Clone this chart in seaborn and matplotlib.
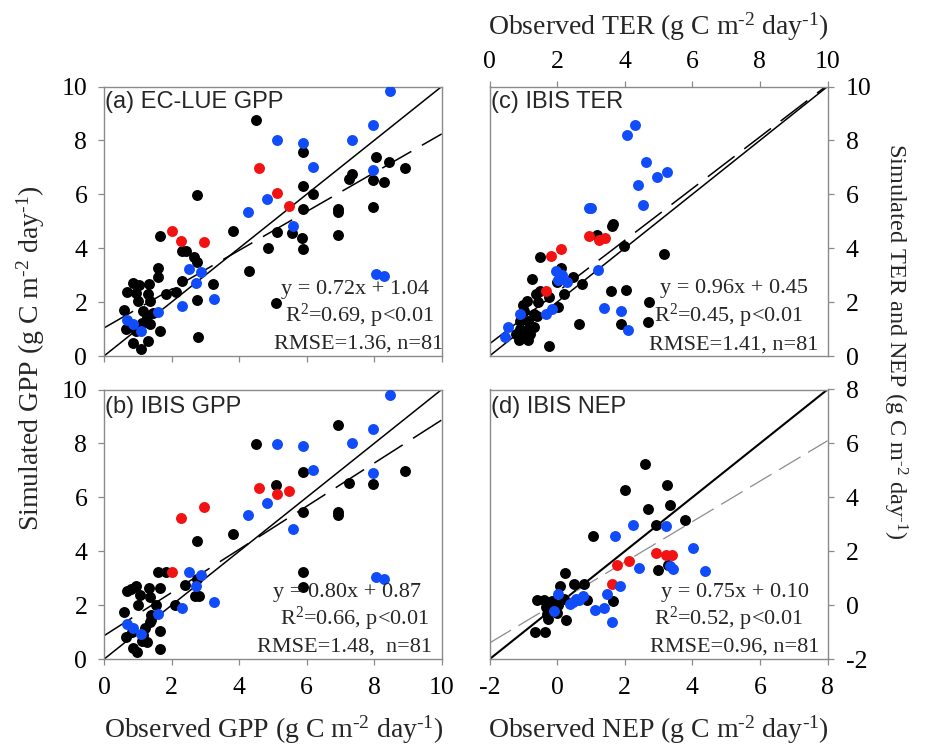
import numpy as np
import matplotlib
matplotlib.use("Agg")
import matplotlib.pyplot as plt
import seaborn as sns

sns.set_style("white")
plt.rcParams["font.family"] = ["Liberation Serif", "DejaVu Serif"]
plt.rcParams["mathtext.fontset"] = "custom"
plt.rcParams["mathtext.rm"] = "Liberation Serif"
plt.rcParams["mathtext.it"] = "Liberation Serif:italic"
plt.rcParams["mathtext.bf"] = "Liberation Serif:bold"
plt.rcParams["axes.unicode_minus"] = False

# ---------------- data ----------------
# (a) EC-LUE GPP
a_black_x = [4.49, 5.88, 8.04, 8.45, 8.91, 7.34, 7.25, 7.96, 8.28, 5.88, 6.20, 2.74, 5.88, 6.92, 6.92, 7.98,
             3.81, 5.11, 5.57, 5.87, 6.92, 1.67, 4.86, 5.88, 2.30, 2.44, 2.67, 2.74, 1.60, 1.60, 4.28, 2.32,
             3.23, 0.85, 1.03, 1.34, 0.68, 0.94, 1.85, 2.13, 1.31, 1.01, 1.36, 2.75, 5.08, 0.58, 1.16, 1.45,
             0.64, 0.94, 1.26, 1.36, 1.67, 0.86, 1.11, 1.29, 2.78, 1.13]
a_black_y = [8.77, 7.56, 7.38, 7.21, 6.98, 6.74, 6.58, 6.54, 6.47, 6.31, 6.01, 5.98, 5.47, 5.47, 5.35, 5.53,
             4.65, 4.59, 4.58, 4.38, 4.50, 4.45, 4.02, 3.97, 3.91, 3.91, 3.67, 3.48, 3.27, 2.92, 3.15, 2.79,
             2.66, 2.71, 2.65, 2.66, 2.38, 2.35, 2.31, 2.38, 2.30, 2.05, 2.05, 2.09, 1.98, 1.70, 1.68, 1.58,
             0.99, 0.93, 1.43, 1.18, 0.91, 0.50, 0.25, 0.56, 0.72, 1.24]
a_red_x = [2.01, 2.29, 2.97, 4.60, 5.11, 5.48]
a_red_y = [4.65, 4.28, 4.24, 6.99, 6.04, 5.58]
a_blue_x = [8.46, 7.98, 7.35, 5.13, 5.88, 6.20, 7.96, 4.84, 4.26, 5.59, 8.04, 8.30, 2.51, 2.87, 2.71, 3.26,
            2.32, 1.60, 0.68, 0.86, 1.11]
a_blue_y = [9.85, 8.56, 8.02, 8.00, 7.91, 7.03, 6.90, 5.81, 5.35, 4.81, 3.05, 2.97, 3.22, 3.12, 2.72, 2.10,
            1.87, 1.65, 1.34, 1.18, 0.93]

# (b) IBIS GPP
b_black_x = [6.92, 4.49, 5.88, 8.91, 7.25, 7.98, 5.09, 5.88, 6.92, 6.92, 3.81, 2.74, 1.60, 1.85, 5.88, 5.88,
             2.39, 2.74, 2.81, 2.69, 0.68, 0.94, 1.32, 1.67, 0.81, 1.06, 1.36, 1.01, 1.55, 2.09, 0.58, 1.36,
             1.40, 1.22, 1.65, 0.66, 0.84, 1.26, 0.86, 0.98, 1.67, 1.40, 1.16, 1.14]
b_black_y = [8.67, 7.99, 6.94, 6.96, 6.54, 6.51, 6.47, 5.46, 5.46, 5.33, 4.64, 4.38, 3.23, 3.23, 3.23, 2.67,
             2.74, 2.96, 2.33, 2.33, 2.52, 2.72, 2.64, 2.64, 2.62, 2.37, 2.31, 2.00, 2.02, 2.02, 1.75, 1.38,
             1.65, 1.14, 1.04, 0.83, 1.01, 0.64, 0.40, 0.27, 0.37, 1.44, 0.89, 0.68]
b_red_x = [2.01, 2.29, 2.97, 4.60, 5.11, 5.48]
b_red_y = [3.23, 5.23, 5.63, 6.36, 6.12, 6.25]
b_blue_x = [8.46, 7.98, 7.35, 5.13, 5.88, 6.20, 7.96, 4.84, 4.26, 5.59, 8.04, 8.30, 2.51, 2.87, 2.71, 3.26,
            2.32, 1.60, 0.68, 0.86, 1.11]
b_blue_y = [9.80, 8.54, 8.01, 7.99, 7.90, 7.01, 6.90, 5.79, 5.33, 4.83, 3.05, 2.99, 3.23, 3.14, 2.72, 2.12,
            1.90, 1.67, 1.32, 1.17, 0.95]

# (c) IBIS TER
c_black_x = [3.64, 3.62, 3.19, 3.99, 5.17, 1.50, 2.13, 1.25, 1.99, 2.46, 2.75, 3.60, 4.03, 4.72, 1.48, 1.38,
             2.19, 1.11, 0.99, 1.43, 2.02, 1.01, 1.40, 1.14, 0.89, 1.31, 0.89, 1.09, 0.77, 0.94, 1.19, 1.14,
             0.87, 1.75, 2.66, 3.88, 4.70, 1.33, 1.75]
c_black_y = [4.88, 4.81, 4.48, 4.08, 3.78, 3.67, 3.26, 2.84, 2.75, 2.92, 2.67, 2.41, 2.45, 1.99, 2.43, 2.30,
             2.30, 2.05, 1.90, 1.99, 1.80, 1.68, 1.49, 1.31, 1.31, 1.06, 1.00, 0.93, 0.81, 0.75, 0.81, 0.58,
             0.58, 0.36, 1.18, 1.18, 1.28, 1.55, 2.20]
c_red_x = [1.83, 2.13, 2.95, 3.23, 3.42, 1.66]
c_red_y = [3.72, 3.98, 4.47, 4.32, 4.38, 2.40]
c_blue_x = [4.29, 4.07, 4.64, 5.25, 4.97, 4.38, 4.54, 2.95, 3.00, 3.22, 1.97, 2.15, 2.29, 2.03, 3.38, 3.89,
            4.10, 1.84, 1.66, 0.91, 0.56, 0.47]
c_blue_y = [8.56, 8.21, 7.18, 6.83, 6.63, 6.33, 5.61, 5.50, 5.50, 3.20, 3.15, 2.99, 2.74, 2.82, 1.78, 1.68,
            0.96, 1.73, 1.55, 1.55, 1.06, 0.71]

# (d) IBIS NEP
d_black_x = [2.60, 2.01, 3.25, 2.70, 3.33, 3.79, 2.93, 1.07, 2.98, 3.28, 0.23, 0.09, 0.50, 0.81, -0.60, -0.40,
             -0.16, 0.19, 0.88, -0.34, 0.02, -0.01, -0.30, -0.27, 0.26, 1.64, -0.64, -0.36, -0.06]
d_black_y = [5.25, 4.27, 4.46, 3.56, 3.72, 3.17, 2.98, 2.56, 1.30, 1.48, 1.19, 0.70, 0.77, 0.77, 0.21, 0.21,
             0.14, 0.25, 0.21, -0.08, 0.01, -0.28, -0.32, -0.50, -0.54, 0.17, -1.00, -1.00, -0.20]
d_red_x = [1.78, 2.13, 2.94, 3.21, 3.40, 1.62]
d_red_y = [1.50, 1.64, 1.92, 1.85, 1.88, 0.78]
d_blue_x = [2.24, 3.21, 1.72, 4.01, 2.41, 3.42, 3.35, 4.38, 1.86, 1.49, 0.77, 0.66, 0.48, 0.38, 0.03, -0.08,
            1.11, 1.38, 1.61, 0.56]
d_blue_y = [2.96, 2.95, 2.56, 2.11, 1.39, 1.33, 1.46, 1.28, 0.70, 0.40, 0.35, 0.21, 0.11, 0.05, 0.41, -0.20,
            -0.17, -0.11, -0.63, 0.25]

# regression fits and statistics
fit_slope = [0.72, 0.80, 0.96, 0.75]
fit_icpt = [1.04, 0.87, 0.45, 0.10]
fit_r2 = ["0.69", "0.66", "0.45", "0.52"]
fit_rmse = ["1.36", "1.48", "1.41", "0.96"]
titles = ["(a) EC-LUE GPP", "(b) IBIS GPP", "(c) IBIS TER", "(d) IBIS NEP"]
gpp_ticks = [0, 2, 4, 6, 8, 10]
nep_ticks = [-2, 0, 2, 4, 6, 8]

BLACK = "#000000"
RED = "#f21212"
BLUE = "#104cfa"
SPINE = "#8a8a8a"

W, H = 925, 745
fig = plt.figure(figsize=(W / 100, H / 100), dpi=100)


def box(left, top, right, bottom):
    return [left / W, 1 - bottom / H, (right - left) / W, (bottom - top) / H]


ax_a = fig.add_axes(box(104, 86.5, 441.7, 356))
ax_b = fig.add_axes(box(104, 389.5, 441.7, 659.2))
ax_c = fig.add_axes(box(489.5, 86.5, 827.5, 356))
ax_d = fig.add_axes(box(489.5, 389.5, 827.5, 659.2))

groups = [
    [(a_black_x, a_black_y, BLACK), (a_red_x, a_red_y, RED), (a_blue_x, a_blue_y, BLUE)],
    [(b_black_x, b_black_y, BLACK), (b_red_x, b_red_y, RED), (b_blue_x, b_blue_y, BLUE)],
    [(c_black_x, c_black_y, BLACK), (c_red_x, c_red_y, RED), (c_blue_x, c_blue_y, BLUE)],
    [(d_black_x, d_black_y, BLACK), (d_red_x, d_red_y, RED), (d_blue_x, d_blue_y, BLUE)],
]
axes = [ax_a, ax_b, ax_c, ax_d]
ticks = [gpp_ticks, gpp_ticks, gpp_ticks, nep_ticks]

# stats text anchors (axes fraction): centre x, baseline y for each line
stat_x = [(0.743, 0.758, 0.754), (0.721, 0.743, 0.711), (0.722, 0.707, 0.722), (0.725, 0.707, 0.725)]
stat_y = [(0.230, 0.126, 0.026), (0.232, 0.127, 0.028), (0.234, 0.127, 0.025), (0.232, 0.127, 0.028)]
title_y = [0.919, 0.912, 0.919, 0.912]

for i, ax in enumerate(axes):
    tk = ticks[i]
    lo, hi = tk[0], tk[-1]
    ax.set_xlim(lo, hi)
    ax.set_ylim(lo, hi)
    for gx, gy, col in groups[i]:
        sns.scatterplot(x=gx, y=gy, color=col, s=62, linewidth=0, ax=ax,
                        legend=False, zorder=3)
    # 1:1 line
    ax.axline((lo, lo), slope=1, color="black", lw=1.5 if i == 3 else 1.1, zorder=2)
    # fitted regression line
    if i == 3:
        ax.axline((0, fit_icpt[i]), slope=fit_slope[i], color="#8c8c8c", lw=0.9,
                  dashes=(20, 7), zorder=2)
    else:
        ax.axline((0, fit_icpt[i]), slope=fit_slope[i], color="black", lw=1.1,
                  dashes=(22, 8), zorder=2)
    ax.set_xticks(tk)
    ax.set_yticks(tk)
    for sp in ax.spines.values():
        sp.set_visible(True)
        sp.set_color(SPINE)
        sp.set_linewidth(1.0)
    ax.tick_params(direction="out", length=4, width=0.9, color=SPINE,
                   labelsize=18.5, labelcolor="black")
    ax.set_xlabel("")
    ax.set_ylabel("")
    # panel title
    ax.text(0.004, title_y[i], titles[i], transform=ax.transAxes, ha="left",
            va="baseline", fontsize=17, family=["Liberation Sans", "DejaVu Sans"])
    lines = [
        f"y = {fit_slope[i]:.2f}x + {fit_icpt[i]:.2f}",
        f"R$^2$={fit_r2[i]}, p<0.01",
        f"RMSE={fit_rmse[i]},  n=81" if i == 1 else f"RMSE={fit_rmse[i]}, n=81",
    ]
    for j, s in enumerate(lines):
        ax.text(stat_x[i][j], stat_y[i][j], s, transform=ax.transAxes, ha="center",
                va="baseline", fontsize=16, zorder=5)

# tick placement per panel
ax_a.tick_params(axis="x", bottom=True, top=False, labelbottom=False, labeltop=False)
ax_a.tick_params(axis="y", left=True, right=False, labelleft=True, labelright=False, pad=8)
ax_b.tick_params(axis="x", bottom=True, top=False, labelbottom=True, pad=9)
ax_b.tick_params(axis="y", left=True, right=False, labelleft=True, pad=8)
ax_c.tick_params(axis="x", bottom=False, top=True, labelbottom=False, labeltop=True, pad=6)
ax_c.tick_params(axis="y", left=False, right=True, labelleft=False, labelright=True, pad=9)
ax_d.tick_params(axis="x", bottom=True, top=False, labelbottom=True, pad=9)
ax_d.tick_params(axis="y", left=False, right=True, labelleft=False, labelright=True, pad=9)

unit = r" (g C m$^{\text{-}2}$ day$^{\text{-}1}$)"
fig.text(31 / W, 1 - 358 / H, "Simulated GPP" + unit, rotation=90, ha="center",
         va="center", fontsize=20)
fig.text(895 / W, 1 - 341 / H, "Simulated TER and NEP" + unit, rotation=270,
         ha="center", va="center", fontsize=17.5)
fig.text(658 / W, 1 - 27 / H, "Observed TER" + unit, ha="center", va="center", fontsize=20)
fig.text(274 / W, 1 - 730 / H, "Observed GPP" + unit, ha="center", va="center", fontsize=20)
fig.text(658 / W, 1 - 730 / H, "Observed NEP" + unit, ha="center", va="center", fontsize=20)

fig.savefig("out.png", dpi=100)
